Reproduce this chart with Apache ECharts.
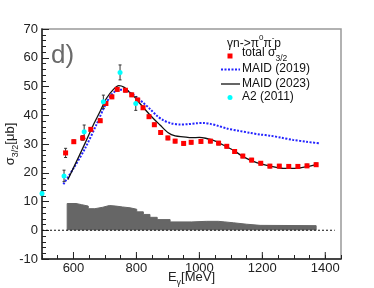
<!DOCTYPE html>
<html>
<head>
<meta charset="utf-8">
<script src="https://cdn.jsdelivr.net/npm/echarts@6/dist/echarts.min.js"></script>
<style>
html,body{margin:0;padding:0;background:#fff;}
#c{width:374px;height:288px;}
</style>
</head>
<body>
<div id="c"></div>
<script>
// ---- data ----
var totalE   = [575,601,629,655,685,703,722,739,765,785,804,821,840,857,877,900,923,950,974,1005,1035,1061,1087,1112,1138,1166,1195,1224,1254,1284,1313,1342,1371];
var totalV   = [26.9,30.8,32.1,35.1,38.1,44.1,46.4,49.0,48.7,47.1,45.3,42.6,39.5,36.7,34.0,32.1,31.0,30.2,30.6,30.9,31.0,30.3,29.2,27.4,25.8,24.4,23.3,22.3,22.3,22.2,22.2,22.4,22.8];
var totalErr = [1.6,0.6,0.8,0.6,0.6,0.6,0.6,0.6,0.6,0.6,0.6,0.6,0.6,0.6,0.6,0.6,0.6,0.6,0.6,0.6,0.6,0.6,0.6,0.6,0.6,0.6,0.6,0.6,0.6,0.6,0.6,0.6,0.6];

var a2E   = [500,570,634,695,748,798];
var a2V   = [12.8,18.9,34.3,44.7,54.9,44.1];
var a2Err = [0.6,2.0,2.3,2.3,2.6,2.4];

var maid19E = [568,600,637,674,700,722,745,762,780,801,822,843,865,885,910,938,965,990,1015,1035,1060,1087,1124,1160,1193,1225,1260,1298,1340,1381];
var maid19V = [16.0,21.5,28.5,37.0,43.3,47.3,48.9,48.9,47.8,46.2,44.3,42.2,39.8,38.3,37.2,36.8,36.9,37.2,37.3,37.0,36.3,35.4,34.6,33.9,33.3,32.9,32.2,31.4,30.8,30.2];

var maid23E = [582,600,637,663,684,705,727,744,760,778,795,811,843,875,901,923,949,976,1000,1020,1040,1055,1087,1110,1140,1182,1225,1267,1298,1320,1341,1375];
var maid23V = [17.6,21.7,30.3,36.6,41.2,45.9,49.0,50.3,49.8,48.0,46.2,44.1,40.1,36.6,33.9,32.8,32.5,32.2,32.3,32.0,31.4,30.8,29.0,27.7,25.5,23.5,22.3,21.5,21.5,21.7,22.1,22.9];

// histogram bins: left edges, heights, and the last right edge
var histEdges = [580,608,626,647,668,693,714,735,756,780,801,822,843,866,907,976,1023,1060,1081,1108,1150,1193];
var histV     = [9.3,8.9,8.4,7.5,8.0,8.6,8.4,8.1,7.8,7.3,6.4,5.5,4.5,3.7,2.9,3.1,3.1,2.9,2.6,2.1,1.7,1.6];
var histEnd   = 1371;

var zeroLineE = [500,1430];

var xLabels = [600,800,1000,1200,1400];
var yMin = -10, yMax = 70, xMin = 500, xMax = 1450;

// ---- build series data ----
function zip(a,b){ var r=[]; for(var i=0;i<a.length;i++) r.push([a[i],b[i]]); return r; }
function zip3(a,b,c){ var r=[]; for(var i=0;i<a.length;i++) r.push([a[i],b[i],c[i]]); return r; }
var histData = [[histEdges[0],0]];
for (var i=0;i<histEdges.length;i++) histData.push([histEdges[i],histV[i]]);
histData.push([histEnd,histV[histV.length-1]]);
histData.push([histEnd,0]);

var FONT = '"Liberation Sans", Arial, sans-serif';

function errRender(params, api){
  var x=api.value(0), y=api.value(1), e=api.value(2);
  var p1=api.coord([x,y-e]), p2=api.coord([x,y+e]);
  return {type:'group', children:[
    {type:'line', shape:{x1:p1[0],y1:p1[1],x2:p2[0],y2:p2[1]}, style:{stroke:'#333',lineWidth:1}},
    {type:'line', shape:{x1:p1[0]-1.5,y1:p1[1],x2:p1[0]+1.5,y2:p1[1]}, style:{stroke:'#333',lineWidth:1}},
    {type:'line', shape:{x1:p2[0]-1.5,y1:p2[1],x2:p2[0]+1.5,y2:p2[1]}, style:{stroke:'#333',lineWidth:1}}
  ]};
}
// longer major ticks on the bottom axis at the labelled values
function majorTickRender(params, api){
  var p=api.coord([api.value(0), yMin]);
  return {type:'line', shape:{x1:p[0],y1:p[1],x2:p[0],y2:p[1]-7}, style:{stroke:'#222',lineWidth:1}};
}

var chart = echarts.init(document.getElementById('c'), null, {renderer:'canvas'});
var option = {
  animation:false,
  backgroundColor:'#fff',
  textStyle:{fontFamily:FONT},
  grid:{left:42, right:33, top:29, bottom:29, show:true, borderColor:'#999', borderWidth:1.5, outerBoundsMode:'none'},
  xAxis:{
    type:'value', min:xMin, max:xMax, interval:50,
    axisLine:{show:true, onZero:false, lineStyle:{color:'#222', width:1.5}},
    axisTick:{show:true, inside:true, length:4, lineStyle:{color:'#222'}},
    axisLabel:{margin:3, color:'#222', fontSize:13, fontFamily:FONT,
      formatter:function(v){ return xLabels.indexOf(v)>=0 ? String(v) : ''; }},
    splitLine:{show:false},
    name:'{n|E}{s|γ}{n|[MeV]}', nameLocation:'middle', nameGap:12, nameMoveOverlap:false,
    nameTextStyle:{rich:{
      n:{fontSize:13, fontFamily:FONT, color:'#222', lineHeight:16, verticalAlign:'top'},
      s:{fontSize:9, fontFamily:FONT, color:'#222', lineHeight:10, verticalAlign:'bottom'}
    }}
  },
  yAxis:{
    type:'value', min:yMin, max:yMax, interval:10,
    axisLine:{show:true, onZero:false, lineStyle:{color:'#222', width:1.5}},
    axisTick:{show:true, inside:true, length:7, lineStyle:{color:'#222'}},
    minorTick:{show:true, splitNumber:5, length:4, lineStyle:{color:'#222'}},
    axisLabel:{margin:4, color:'#222', fontSize:13, fontFamily:FONT},
    splitLine:{show:false},
    name:'{n|σ}{s|3/2}{n|[μb]}', nameLocation:'middle', nameGap:22, nameRotate:90, nameMoveOverlap:false,
    nameTextStyle:{rich:{
      n:{fontSize:13, fontFamily:FONT, color:'#222', lineHeight:16, verticalAlign:'top'},
      s:{fontSize:9, fontFamily:FONT, color:'#222', lineHeight:10, verticalAlign:'bottom'}
    }}
  },
  series:[
    {type:'line', name:'hist', data:histData, step:'end', symbol:'none', z:1,
     lineStyle:{color:'#666', width:1}, areaStyle:{color:'#666', opacity:1, origin:0}},
    {type:'line', name:'zero', data:zip(zeroLineE,[0,0]), symbol:'none', z:2,
     lineStyle:{color:'#111', width:1.2, type:[2,2]}},
    {type:'line', name:'MAID (2019)', data:zip(maid19E,maid19V), symbol:'none', smooth:0.3, z:3,
     lineStyle:{color:'#2323ff', width:2, type:[2,1.5]}},
    {type:'line', name:'MAID (2023)', data:zip(maid23E,maid23V), symbol:'none', smooth:0.3, z:4,
     lineStyle:{color:'#111', width:1.3}},
    {type:'custom', name:'err total', data:zip3(totalE,totalV,totalErr), renderItem:errRender, z:5},
    {type:'custom', name:'err a2', data:zip3(a2E,a2V,a2Err), renderItem:errRender, z:5},
    {type:'scatter', name:'total', data:zip(totalE,totalV), symbol:'rect', symbolSize:5, z:6,
     itemStyle:{color:'#ff0000', opacity:1}},
    {type:'scatter', name:'A2 (2011)', data:zip(a2E,a2V), symbol:'circle', symbolSize:5, z:7, clip:false,
     itemStyle:{color:'#00ffff', opacity:1}},
    {type:'custom', name:'major ticks', data:xLabels.map(function(v){return [v];}), renderItem:majorTickRender, z:8, silent:true}
  ],
  graphic:[
    {type:'text', left:51, top:43, style:{text:'d)', fontSize:26, fontFamily:FONT, fill:'#6a6a6a'}},
    {type:'text', left:227, top:34, style:{
      text:'{t|γn->π}{p|0}{t|π}{p|-}{t|p}',
      rich:{ t:{fontSize:12, fontFamily:FONT, fill:'#111', lineHeight:16, verticalAlign:'bottom'},
             p:{fontSize:8, fontFamily:FONT, fill:'#111', lineHeight:9, verticalAlign:'top'} }}},
    {type:'rect', shape:{x:227.5, y:53.5, width:5, height:5}, style:{fill:'#ff0000'}},
    {type:'text', left:242, top:47, style:{
      text:'{t|total σ}{s|3/2}',
      rich:{ t:{fontSize:12, fontFamily:FONT, fill:'#111', lineHeight:16, verticalAlign:'top'},
             s:{fontSize:8.5, fontFamily:FONT, fill:'#111', lineHeight:9, verticalAlign:'bottom'} }}},
    {type:'line', shape:{x1:221, y1:69.5, x2:240, y2:69.5}, style:{stroke:'#2323ff', lineWidth:2, lineDash:[2,1.5]}},
    {type:'text', left:242, top:63, style:{text:'MAID (2019)', fontSize:12, fontFamily:FONT, fill:'#111'}},
    {type:'line', shape:{x1:221, y1:84, x2:240, y2:84}, style:{stroke:'#111', lineWidth:1.3}},
    {type:'text', left:242, top:77.5, style:{text:'MAID (2023)', fontSize:12, fontFamily:FONT, fill:'#111'}},
    {type:'circle', shape:{cx:230, cy:97.5, r:2.5}, style:{fill:'#00ffff'}},
    {type:'text', left:242, top:91, style:{text:'A2 (2011)', fontSize:12, fontFamily:FONT, fill:'#111'}}
  ]
};
chart.setOption(option);
</script>
</body>
</html>
